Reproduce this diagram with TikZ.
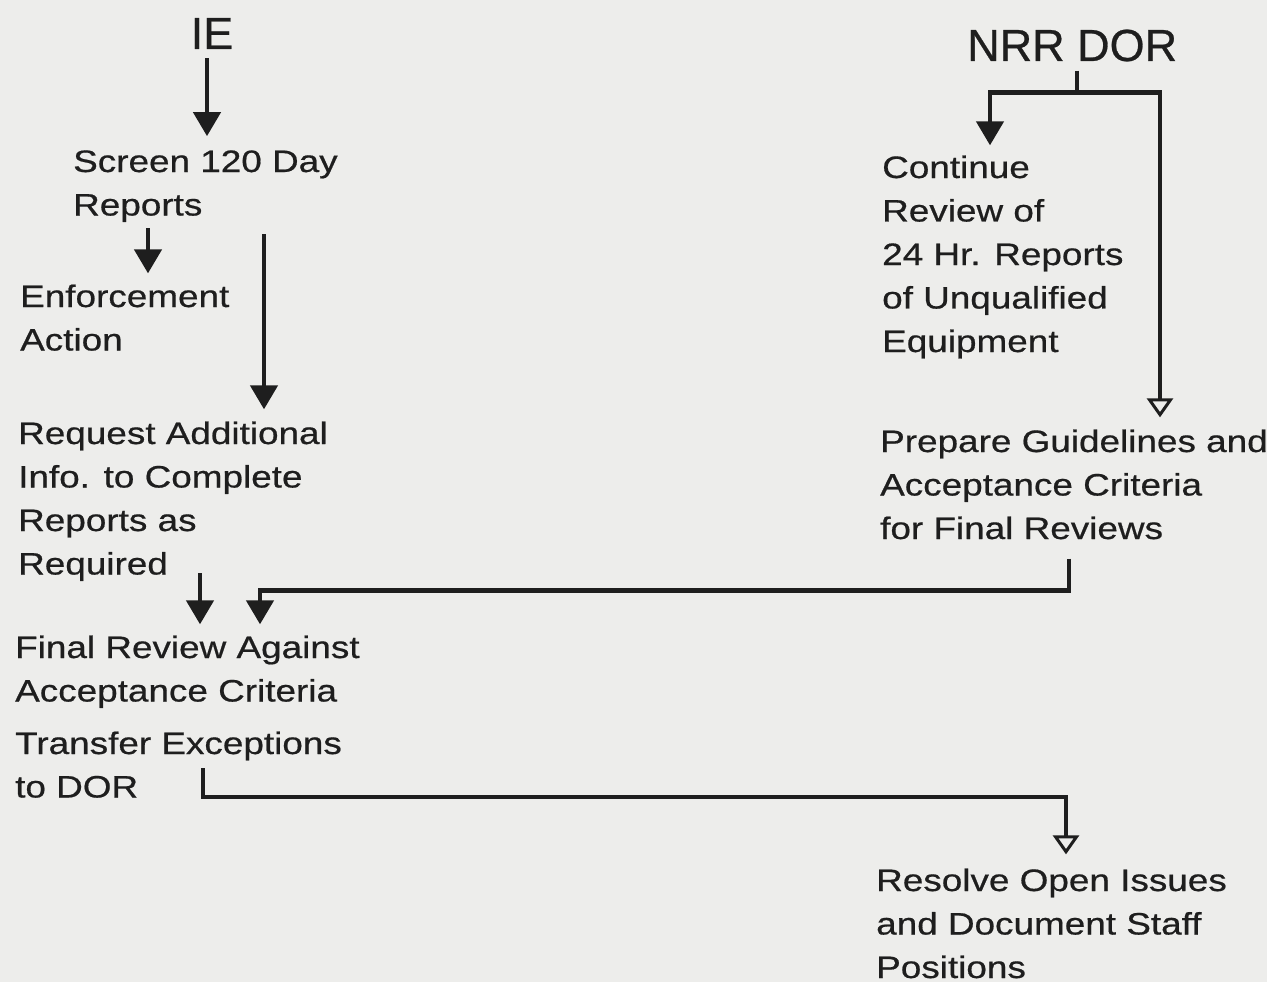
\documentclass[tikz,border=0pt]{standalone}
\usepackage{fontspec}
\usetikzlibrary{arrows.meta,calc}
\newfontfamily\bodyfont{Liberation Sans}[FakeStretch=1.19,FakeBold=0.6]
\newfontfamily\headfont{Liberation Sans}[FakeBold=0.6]
\definecolor{paper}{HTML}{EDEDEB}
\definecolor{ink}{HTML}{1E1E1E}
\begin{document}
\begin{tikzpicture}[x=1pt,y=-1pt,
  txt/.style={inner sep=0pt,anchor=base west,text=ink,font=\bodyfont\fontsize{31}{43.5}\selectfont},
  headtxt/.style={inner sep=0pt,text=ink,font=\headfont\fontsize{45}{50}\selectfont},
  conn/.style={draw=ink,line width=4.5pt},
  arr/.style={conn,-{Triangle[width=27pt,length=24pt]}},
  oarr/.style={conn,-{Triangle[open,width=26pt,length=19pt,line width=3pt]}}]
\fill[paper] (0,0) rectangle (1267,982);
\useasboundingbox (0,0) rectangle (1267,982);

\node[headtxt,anchor=base] (ie) at (212,49) {IE};
\node[headtxt,anchor=base west] (nrr) at (967,61) {NRR DOR};

\node[txt] (screen) at (73,172) {\vtop{\hbox{Screen 120 Day}\hbox{Reports}}};
\node[txt] (enf) at (20,307) {\vtop{\hbox{Enforcement}\hbox{Action}}};
\node[txt] (req) at (18,444) {\vtop{\hbox{Request Additional}\hbox{Info. to Complete}\hbox{Reports as}\hbox{Required}}};
\node[txt] (final) at (15,658) {\vtop{\hbox{Final Review Against}\hbox{Acceptance Criteria}}};
\node[txt] (trans) at (15,754) {\vtop{\hbox{Transfer Exceptions}\hbox{to DOR}}};
\node[txt] (cont) at (882,178) {\vtop{\hbox{Continue}\hbox{Review of}\hbox{24 Hr. Reports}\hbox{of Unqualified}\hbox{Equipment}}};
\node[txt] (prep) at (880,452) {\vtop{\hbox{Prepare Guidelines and}\hbox{Acceptance Criteria}\hbox{for Final Reviews}}};
\node[txt] (res) at (876,891) {\vtop{\hbox{Resolve Open Issues}\hbox{and Document Staff}\hbox{Positions}}};

% IE branch
\draw[arr,shorten >=14pt] ([xshift=-5pt,yshift=-9pt]ie.south) coordinate (a0) -- (a0 |- screen.north);
\draw[arr,shorten >=11pt] ([xshift=75pt,yshift=-6pt]screen.south west) coordinate (b0) -- (b0 |- enf.north);
\draw[arr,shorten >=12pt] ([xshift=191pt,yshift=-12pt]screen.south west) coordinate (c0) -- (c0 |- req.north);
\draw[arr,shorten >=11pt] ([xshift=182pt,yshift=8pt]req.south west) coordinate (d0) -- (d0 |- final.north);

% NRR DOR branch
\draw[conn] ([xshift=110pt,yshift=-9pt]nrr.south west) -- ++(0,22) coordinate (br);
\draw[arr,shorten >=10pt] (br) -| ([xshift=108pt]cont.north west);
\draw[oarr,shorten >=12pt] (br) -| ([xshift=280pt]prep.north west);

% cross links
\draw[arr,shorten >=11pt] ([xshift=189pt,yshift=-19pt]prep.south west) -- ++(0,32) -| ([xshift=245pt]final.north west);
\draw[oarr,shorten >=14pt] ([xshift=188pt,yshift=30pt]trans.south west) -- ++(0,29) -| ([xshift=190pt]res.north west);
\end{tikzpicture}
\end{document}
